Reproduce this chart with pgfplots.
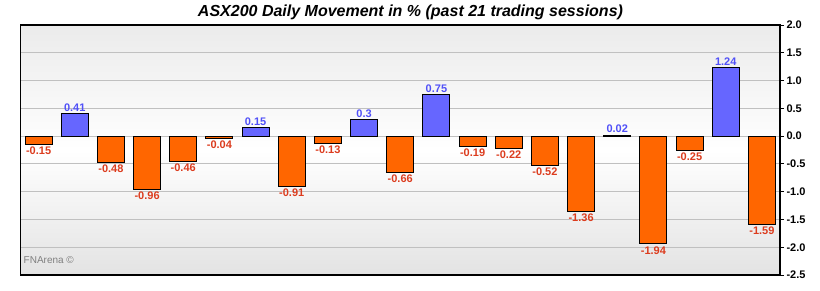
\documentclass[border=0pt]{standalone}
\usepackage{pgfplots}
\pgfplotsset{compat=1.18}
\usepackage{fontspec}
\setmainfont{Liberation Sans}
\definecolor{barO}{HTML}{FF6600}
\definecolor{barB}{HTML}{6666FF}
\definecolor{labB}{HTML}{5050F8}
\definecolor{labR}{HTML}{DC3C1E}
\definecolor{bgtop}{HTML}{EBEBEB}
\definecolor{bgbot}{HTML}{E3E3E3}
\definecolor{gridc}{HTML}{C0C0C0}
\begin{document}
\begin{tikzpicture}[x=1pt,y=1pt]
\useasboundingbox (0,0) rectangle (820,290);
\node[font=\fontsize{16}{18}\selectfont\bfseries\itshape] at (410.5,277.5) {ASX200 Daily Movement in \% (past 21 trading sessions)};
\begin{axis}[
  at={(20.5pt,15pt)}, anchor=south west,
  scale only axis, width=759.5pt, height=250pt,
  xmin=-0.5, xmax=20.5, ymin=-2.5, ymax=2,
  xtick=\empty,
  ytick={-2.5,-2,-1.5,-1,-0.5,0,0.5,1,1.5,2},
  ytick pos=right, yticklabel pos=right,
  tick align=outside, major tick length=4pt,
  tick style={black, line width=1pt},
  axis line style={black, line width=1.2pt},
  ymajorgrids, major grid style={draw=gridc, line width=1.1pt},
  axis background/.style={top color=bgtop, bottom color=bgbot, middle color=white},
  /pgf/number format/.cd, fixed, precision=2, assume math mode=true, /pgfplots/.cd,
  yticklabel style={font=\fontsize{11}{12}\selectfont\bfseries, xshift=-1pt,
    /pgf/number format/.cd, fixed, fixed zerofill, precision=1, assume math mode=true},
  ybar, bar width=27pt,
]
\addplot[ybar, bar shift=0pt, fill=barO, draw=black, line width=1pt,
  nodes near coords,
  every node near coord/.append style={font=\fontsize{11}{12}\selectfont\bfseries, text=labR, anchor=north, inner sep=2pt}]
  coordinates {(0,-0.15) (2,-0.48) (3,-0.96) (4,-0.46) (5,-0.04) (7,-0.91) (8,-0.13) (10,-0.66) (12,-0.19) (13,-0.22) (14,-0.52) (15,-1.36) (17,-1.94) (18,-0.25) (20,-1.59)};
\addplot[ybar, bar shift=0pt, fill=barB, draw=black, line width=1pt,
  nodes near coords,
  every node near coord/.append style={font=\fontsize{11}{12}\selectfont\bfseries, text=labB, anchor=south, inner sep=1.5pt}]
  coordinates {(1,0.41) (6,0.15) (9,0.3) (11,0.75) (16,0.02) (19,1.24)};
\end{axis}
\node[anchor=west, font=\fontsize{10}{12}\selectfont, text=gray, inner sep=0pt] at (23.5,29.5) {FNArena ©};
\end{tikzpicture}
\end{document}
